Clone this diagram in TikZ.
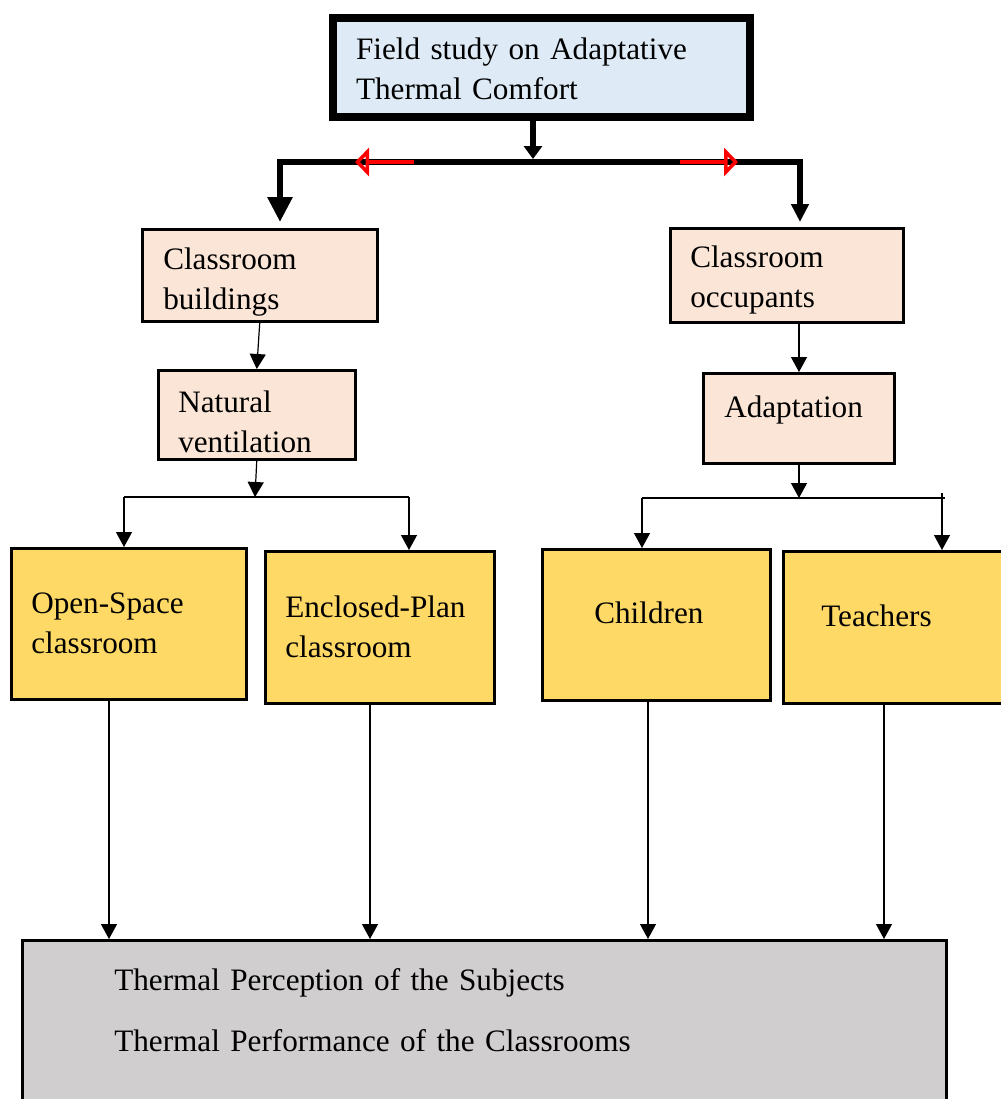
\documentclass[tikz,border=0pt]{standalone}
\usepackage{fontspec}
\setmainfont{Liberation Serif}
\usetikzlibrary{arrows.meta, positioning}

\definecolor{titleblue}{RGB}{222,235,247}
\definecolor{peach}{RGB}{251,229,214}
\definecolor{gold}{RGB}{255,217,102}
\definecolor{greybox}{RGB}{208,206,206}

\begin{document}
\begin{tikzpicture}[
    x=0.5pt, y=-0.5pt,
    font=\fontsize{15.6}{20}\selectfont,
    caja/.style={
        draw=black,
        line width=1.25pt,
        anchor=north west,
        align=left,
        inner ysep=0pt
    },
    nivel/.style={caja, fill=peach},
    grupo/.style={caja, fill=gold},
    flecha/.style={
        -{Triangle[width=8pt,length=7.5pt]},
        line width=0.6pt
    },
    linea/.style={line width=0.6pt},
    gruesa/.style={line width=3pt, line join=miter},
    roja/.style={
        -{Triangle[open,width=14pt,length=7pt]},
        red, line width=2pt
    }
]
\useasboundingbox (0,0) rectangle (1001,1099);

% Caja principal
\node (campo) [caja, fill=titleblue, line width=4pt, text height=12.5pt,
               minimum width=208.5pt, minimum height=49.5pt,
               text width=185.5pt, inner xsep=11.5pt] at (329,14)
    {Field study on Adaptative\\Thermal Comfort};

% Edificios
\node (edificios) [nivel, text height=17.5pt, minimum width=117.5pt, minimum height=46pt,
                   text width=96.5pt, inner xsep=10.5pt] at (141,228)
    {Classroom\\buildings};
\node (ventilacion) [nivel, text height=17.5pt, minimum width=98.5pt, minimum height=44.5pt,
                     text width=78.5pt, inner xsep=10pt] at (157,369)
    {Natural\\ventilation};

% Ocupantes
\node (ocupantes) [nivel, text height=16pt, minimum width=116.5pt, minimum height=47pt,
                   text width=96.5pt, inner xsep=10pt] at (669,227)
    {Classroom\\occupants};
\node (adaptacion) [nivel, text depth=12pt, minimum width=95.5pt, minimum height=45pt,
                    text width=74.5pt, inner xsep=10.5pt] at (702,372)
    {Adaptation};

% Grupos
\node (abierta) [grupo, minimum width=117.5pt, minimum height=75.5pt,
                 text width=97.5pt, inner xsep=10pt] at (10,547)
    {Open-Space\\classroom};
\node (cerrada) [grupo, minimum width=114.5pt, minimum height=76pt,
                 text width=94.5pt, inner xsep=10pt] at (264,550)
    {Enclosed-Plan\\classroom};
\node (ninos) [grupo, text depth=12pt, minimum width=114pt, minimum height=75.5pt,
               text width=62pt, inner xsep=26pt] at (541,548)
    {Children};
\node (docentes) [grupo, text depth=12pt, minimum width=120pt, minimum height=76pt,
                  text width=82pt, inner xsep=19pt] at (782,550)
    {Teachers};

% Resultado
\node (percepcion) [caja, fill=greybox, minimum width=462pt,
                    text width=370pt, inner xsep=46pt, inner ysep=14pt,
                    text height=11pt, text depth=47pt] at (21,939)
    {Thermal Perception of the Subjects\\[10.5pt]Thermal Performance of the Classrooms};

% Reparto superior
\coordinate (reparto) at (533,159);
\coordinate (izq) at (280,162);
\coordinate (der) at (800,162);
\draw[gruesa, -{Triangle[width=9pt,length=6.5pt]}] (reparto |- campo.south) -- (reparto);
\draw[gruesa, {Triangle[width=12pt,length=12.5pt]}-{Triangle[width=8.5pt,length=9pt]},
      shorten <=3pt, shorten >=2.5pt]
    (izq |- edificios.north) -- (izq) -- (der) -- (der |- ocupantes.north);

% Flechas rojas
\coordinate (rojaI) at (414,162);
\coordinate (rojaIf) at (355,162);
\coordinate (rojaD) at (680,162);
\coordinate (rojaDf) at (738,162);
\draw[roja] (rojaI) -- (rojaIf);
\draw[roja] (rojaD) -- (rojaDf);

% Rama izquierda
\draw[flecha] (edificios.south) -- (ventilacion.north);
\coordinate (ramaA) at (255,497);
\coordinate (ramaA1) at (124,497);
\coordinate (ramaA2) at (409,497);
\draw[flecha] (ventilacion.south) -- (ramaA);
\draw[linea] (ramaA1) -- (ramaA2);
\draw[flecha] (ramaA1) -- (ramaA1 |- abierta.north);
\draw[flecha] (ramaA2) -- (ramaA2 |- cerrada.north);

% Rama derecha
\coordinate (ramaB) at (799,498);
\draw[flecha] (ocupantes.south -| ramaB) -- (adaptacion.north -| ramaB);
\coordinate (ramaB1) at (642,498);
\coordinate (ramaB2) at (945,498);
\coordinate (ramaB3) at (942,493);
\draw[flecha] (adaptacion.south -| ramaB) -- (ramaB);
\draw[linea] (ramaB1) -- (ramaB2);
\draw[flecha] (ramaB1) -- (ramaB1 |- ninos.north);
\draw[flecha] (ramaB3) -- (ramaB3 |- docentes.north);

% Flechas hacia el resultado
\foreach \nombre/\xx in {abierta/109, cerrada/370, ninos/648, docentes/884} {
    \coordinate (x\nombre) at (\xx,0);
    \draw[flecha] (\nombre.south -| x\nombre) -- (percepcion.north -| x\nombre);
}

\end{tikzpicture}
\end{document}
